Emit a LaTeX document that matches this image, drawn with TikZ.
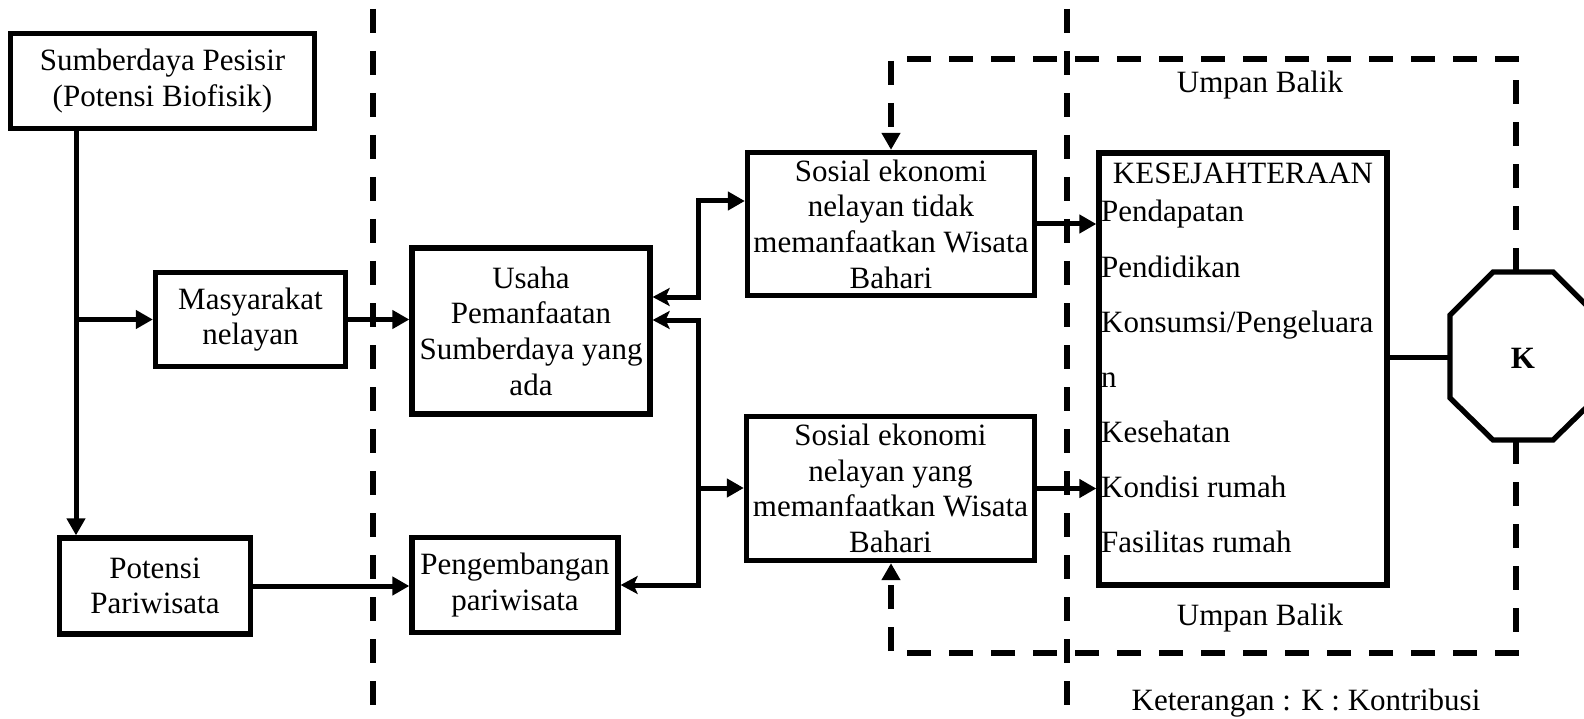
\documentclass[tikz,border=0pt]{standalone}
\usepackage{fontspec}
\setmainfont{Liberation Serif}
\usetikzlibrary{arrows.meta}
\begin{document}
\begin{tikzpicture}[x=1pt,y=-1pt,
  box/.style={draw, line width=5.3pt, inner sep=0pt, align=center, font=\fontsize{31}{35.7}\selectfont},
  txt/.style={inner sep=0pt, font=\fontsize{31}{35.7}\selectfont},
  conn/.style={line width=5pt},
  tri/.tip={Triangle[length=17pt,width=18pt]},
  stl/.tip={Stealth[length=17pt,width=18pt,inset=4pt]},
  fbline/.style={line width=5.3pt, dash pattern=on 24pt off 18pt},
  divline/.style={line width=5.3pt, dash pattern=on 24pt off 18pt}]
\path[use as bounding box] (0,0) rectangle (1584,719);
\clip (0,0) rectangle (1584,719);

% boxes
\node[box, minimum width=304pt, minimum height=95pt] (b1) at (162.5,81) {Sumberdaya Pesisir\\(Potensi Biofisik)};
\node[box, minimum width=190pt, minimum height=94pt] (masy) at (250.5,319.5) {Masyarakat\\nelayan};
\node[box, minimum width=238pt, minimum height=166pt] (usaha) at (531,331) {Usaha\\Pemanfaatan\\Sumberdaya yang\\ada};
\node[box, minimum width=191pt, minimum height=96pt] (pot) at (155,586) {Potensi\\Pariwisata};
\node[box, minimum width=206pt, minimum height=95pt] (peng) at (515,585) {Pengembangan\\pariwisata};
\node[box, minimum width=287pt, minimum height=143pt] (sos1) at (891,224) {Sosial ekonomi\\nelayan tidak\\memanfaatkan Wisata\\Bahari};
\node[box, minimum width=288pt, minimum height=144pt] (sos2) at (890.5,488.5) {Sosial ekonomi\\nelayan yang\\memanfaatkan Wisata\\Bahari};
\node[box, minimum width=288pt, minimum height=432pt] (kes) at (1243,369) {};

% contents of welfare box
\node[txt, anchor=base] (kt) at (1243,184) {KESEJAHTERAAN};
\node[txt, anchor=base west] (k1) at (1101,222) {Pendapatan};
\node[txt, anchor=base west] (k2) at (1101,277) {Pendidikan};
\node[txt, anchor=base west] (k3) at (1101,332) {Konsumsi/Pengeluara};
\node[txt, anchor=base west] (k4) at (1101,387) {n};
\node[txt, anchor=base west] (k5) at (1101,442) {Kesehatan};
\node[txt, anchor=base west] (k6) at (1101,497) {Kondisi rumah};
\node[txt, anchor=base west] (k7) at (1101,552) {Fasilitas rumah};

% octagon
\draw[line width=5.3pt] (1450,315) -- (1493,272) -- (1553,272) -- (1596,315) -- (1596,398) -- (1553,440) -- (1493,440) -- (1450,398) -- cycle;
\node[txt, anchor=base, font=\fontsize{31}{35.7}\selectfont\bfseries] (oct) at (1523,368) {K};
\coordinate (octN) at (1516,272);
\coordinate (octS) at (1516,440);
\coordinate (octW) at (1450,357);

% divider lines
\draw[divline] (373,9) -- (373,705);
\draw[divline] (1067,9) -- (1067,705);

% connectors
\coordinate (vx) at (76,0);
\draw[conn,-tri] (b1.south -| vx) -- (pot.north -| vx);
\draw[conn,-tri] (masy.west -| vx) -- (masy.west);
\draw[conn,-tri] (masy.east) -- (masy.east -| usaha.west);
\draw[conn,-tri] (pot.east) -- (pot.east -| peng.west);

\coordinate (jt) at (698,201);
\coordinate (ja) at (698,297);
\coordinate (jb) at (698,320);
\coordinate (jy) at (698,488);
\coordinate (jp) at (698,585);
\draw[conn,stl-tri] (ja -| usaha.east) -- (ja) -- (jt) -- (jt -| sos1.west);
\draw[conn,stl-stl] (jb -| usaha.east) -- (jb) -- (jp) -- (jp -| peng.east);
\draw[conn,-tri] (jy) -- (jy -| sos2.west);
\draw[conn,-tri] (sos1.east) -- (sos1.east -| kes.west);
\draw[conn,-tri] (sos2.east) -- (sos2.east -| kes.west);
\draw[conn] (octW -| kes.east) -- (octW);

% feedback loops
\coordinate (ftl) at (891,59);
\coordinate (ftr) at (1516,59);
\coordinate (fbl) at (891,653);
\coordinate (fbr) at (1516,653);
\draw[fbline,-tri] (octN) -- (ftr) -- (ftl) -- (sos1.north -| ftl);
\draw[fbline,-tri] (octS) -- (fbr) -- (fbl) -- (sos2.south -| fbl);

% labels
\node[txt, anchor=base] (ub1) at (1260,93) {Umpan Balik};
\node[txt, anchor=base] (ub2) at (1260,625) {Umpan Balik};
\node[txt, anchor=base] (ket) at (1306,710) {Keterangan : K : Kontribusi};
\end{tikzpicture}
\end{document}
